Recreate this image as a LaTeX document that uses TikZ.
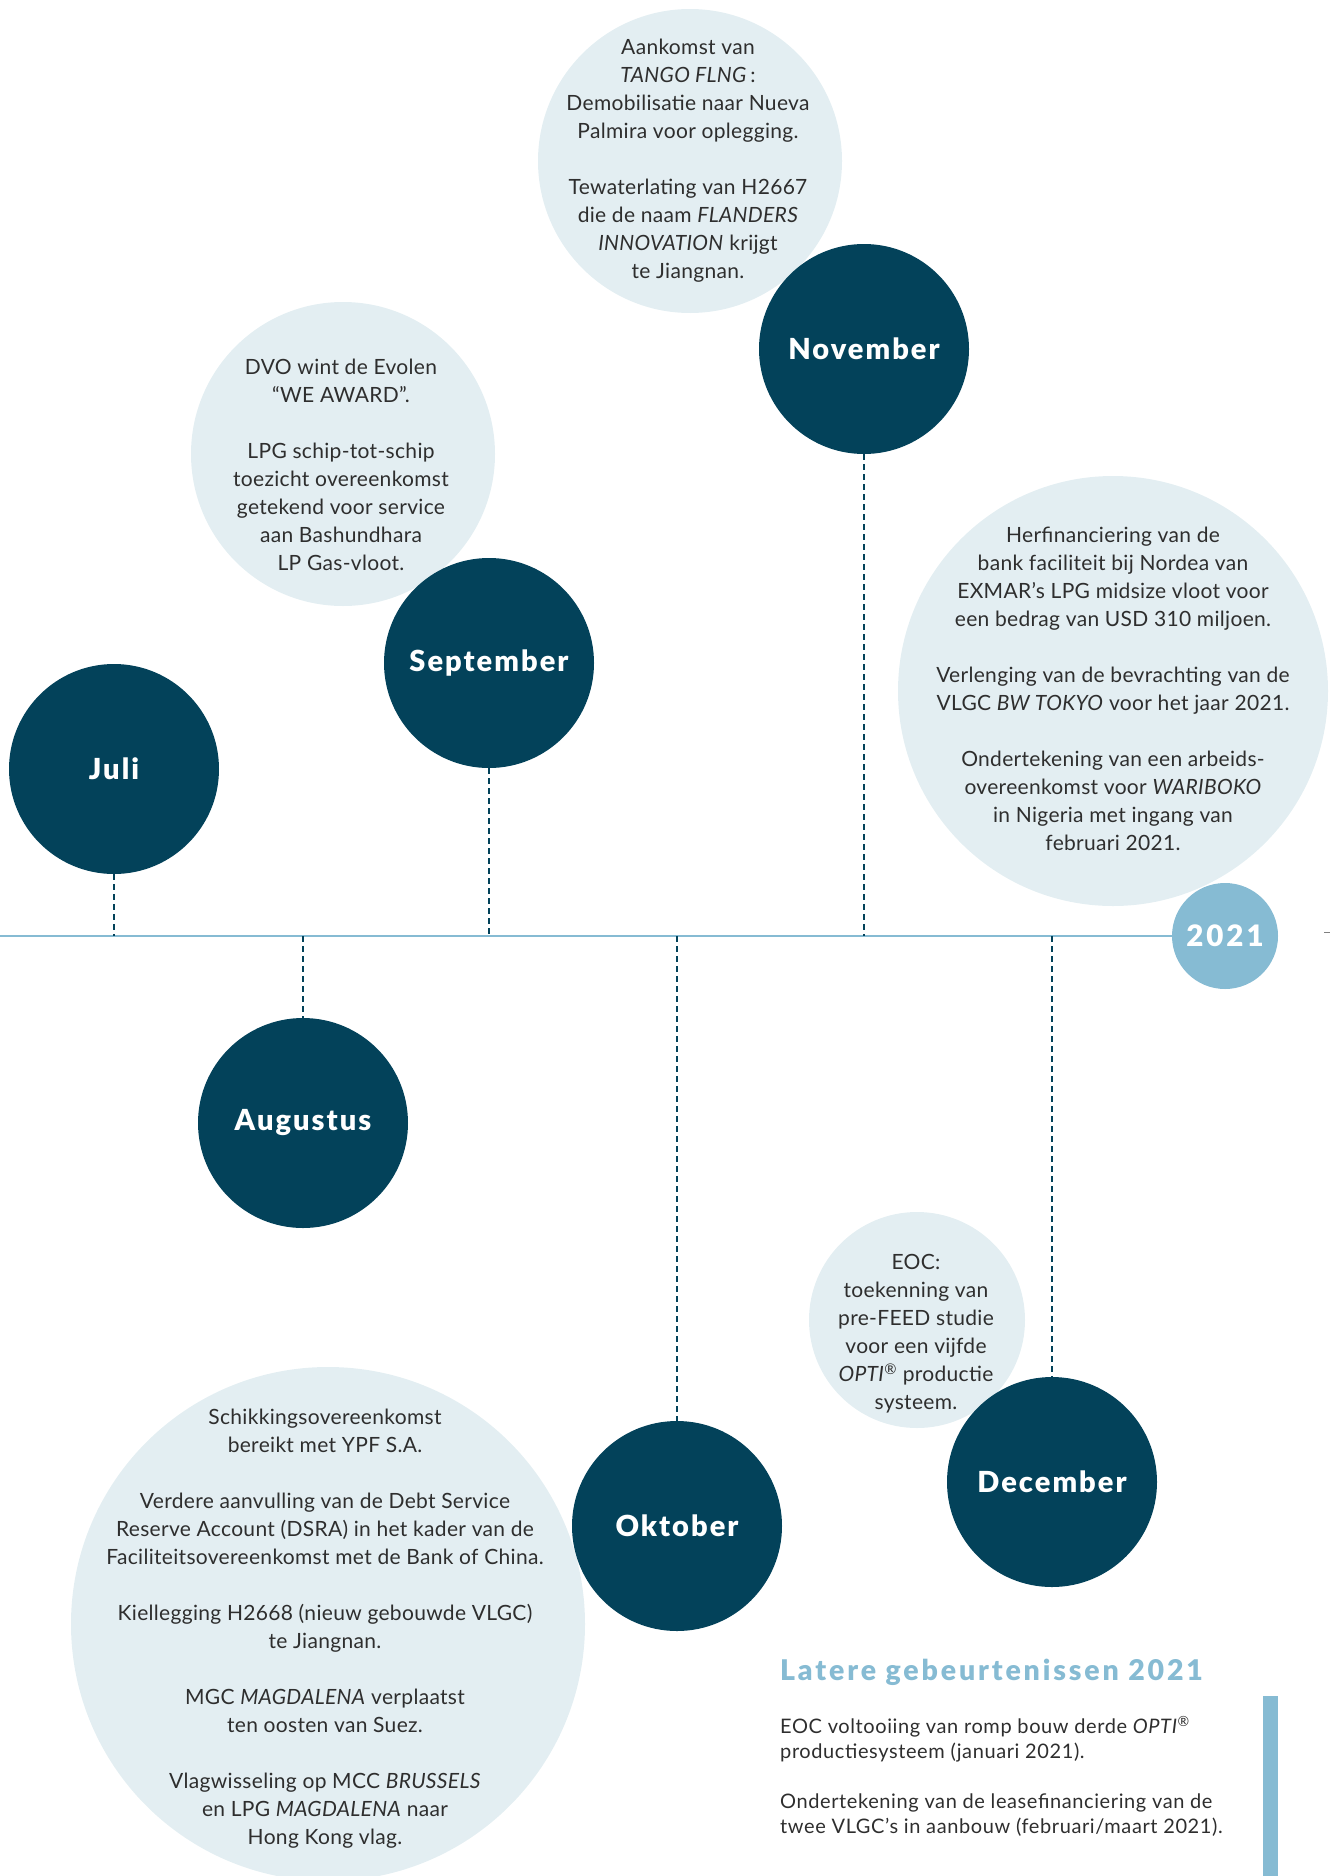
\documentclass[tikz,border=0pt]{standalone}
\usepackage{fontspec}
\setmainfont{Lato}[LetterSpace=1.5]
\newfontfamily\heavy{Lato Black}[LetterSpace=7]
\newfontfamily\heavywide{Lato Black}[LetterSpace=10]
\definecolor{dark}{HTML}{03425A}
\definecolor{pale}{HTML}{E3EEF2}
\definecolor{sky}{HTML}{86BBD3}
\definecolor{ink}{HTML}{2E2E2E}
\begin{document}
\begin{tikzpicture}[x=1pt,y=-1pt,
 month/.style={circle, fill=dark, minimum size=210pt, inner sep=0pt, text=white, font=\fontsize{29}{32}\heavy},
 bubble/.style={circle, fill=pale, inner sep=0pt},
 info/.style={align=center, text=ink, font=\fontsize{21}{28}\selectfont, inner sep=0pt},
 link/.style={dark, line width=1.8pt, dash pattern=on 6pt off 4pt},
]
\useasboundingbox (0,0) rectangle (1330,1876);
% pale bubbles
\node[bubble, minimum size=304pt] (bNov) at (690,161) {};
\node[bubble, minimum size=304pt] (bSep) at (343,454) {};
\node[bubble, minimum size=430pt] (bDec) at (1113,691) {};
\node[bubble, minimum size=216pt] (bEoc) at (917,1320) {};
\node[bubble, minimum size=514pt] (bOkt) at (328,1624) {};
% year marker and timeline
\node[circle, fill=sky, minimum size=106pt, inner sep=0pt, text=white, font=\fontsize{29.5}{32}\heavywide] (y21) at (1225,936) {2021};
\coordinate (tl0) at (0,936);
\draw[sky, line width=2.6pt] (tl0) -- (y21.west);
\coordinate (tk1) at (1324,932);
\coordinate (tk2) at (1330,932);
\draw[gray, line width=1pt] (tk1) -- (tk2);
% months
\node[month] (jul) at (114,769) {Juli};
\node[month] (sep) at (489,663) {September};
\node[month] (nov) at (864,349) {November};
\node[month] (aug) at (303,1123) {Augustus};
\node[month] (okt) at (677,1526) {Oktober};
\node[month] (dec) at (1052,1482) {December};
% connectors
\draw[link] (jul.south) -- (jul.south |- tl0);
\draw[link] (sep.south) -- (sep.south |- tl0);
\draw[link] (nov.south) -- (nov.south |- tl0);
\draw[link] (aug.north |- tl0) -- (aug.north);
\draw[link] (okt.north |- tl0) -- (okt.north);
\draw[link] (dec.north |- tl0) -- (dec.north);
% texts
\node[info] (tNov) at (688,161) {Aankomst van\\ \textit{TANGO FLNG}\,:\\ Demobilisatie naar Nueva\\ Palmira voor oplegging.\\[28pt] Tewaterlating van H2667\\ die de naam \textit{FLANDERS}\\ \textit{INNOVATION} krijgt\\ te Jiangnan.};
\node[info] (tSep) at (341,465) {DVO wint de Evolen\\ “WE AWARD”.\\[28pt] LPG schip-tot-schip\\ toezicht overeenkomst\\ getekend voor service\\ aan Bashundhara\\ LP Gas-vloot.};
\node[info] (tDec) at (1113,689) {Herfinanciering van de\\ bank faciliteit bij Nordea van\\ EXMAR’s LPG midsize vloot voor\\ een bedrag van USD 310 miljoen.\\[28pt] Verlenging van de bevrachting van de\\ VLGC \textit{BW TOKYO} voor het jaar 2021.\\[28pt] Ondertekening van een arbeids-\\ overeenkomst voor \textit{WARIBOKO}\\ in Nigeria met ingang van\\ februari 2021.};
\node[info] (tEoc) at (916,1334) {EOC:\\ toekenning van\\ pre-FEED studie\\ voor een vijfde\\ \textit{OPTI}\textsuperscript{®} productie\\ systeem.};
\node[info] (tOkt) at (325,1629) {Schikkingsovereenkomst\\ bereikt met YPF S.A.\\[28pt] Verdere aanvulling van de Debt Service\\ Reserve Account (DSRA) in het kader van de\\ Faciliteitsovereenkomst met de Bank of China.\\[28pt] Kiellegging H2668 (nieuw gebouwde VLGC)\\ te Jiangnan.\\[28pt] MGC \textit{MAGDALENA} verplaatst\\ ten oosten van Suez.\\[28pt] Vlagwisseling op MCC \textit{BRUSSELS}\\ en LPG \textit{MAGDALENA} naar\\ Hong Kong vlag.};
% later events
\node[anchor=base west, inner sep=0pt, text=sky, font=\fontsize{28.5}{32}\heavywide] (late) at (780,1680) {Latere gebeurtenissen 2021};
\node[anchor=north west, inner sep=0pt, align=left, text=ink, font=\fontsize{20}{25}\selectfont\addfontfeatures{LetterSpace=3}] (lateTxt) at (780,1716) {EOC voltooiing van romp bouw derde \textit{OPTI}\textsuperscript{®}\\ productiesysteem (januari 2021).\\[25pt] Ondertekening van de leasefinanciering van de\\ twee VLGC’s in aanbouw (februari/maart 2021).};
\node[anchor=north west, fill=sky, minimum width=15pt, minimum height=182pt, inner sep=0pt] (bar) at (1263,1696) {};
\end{tikzpicture}
\end{document}
